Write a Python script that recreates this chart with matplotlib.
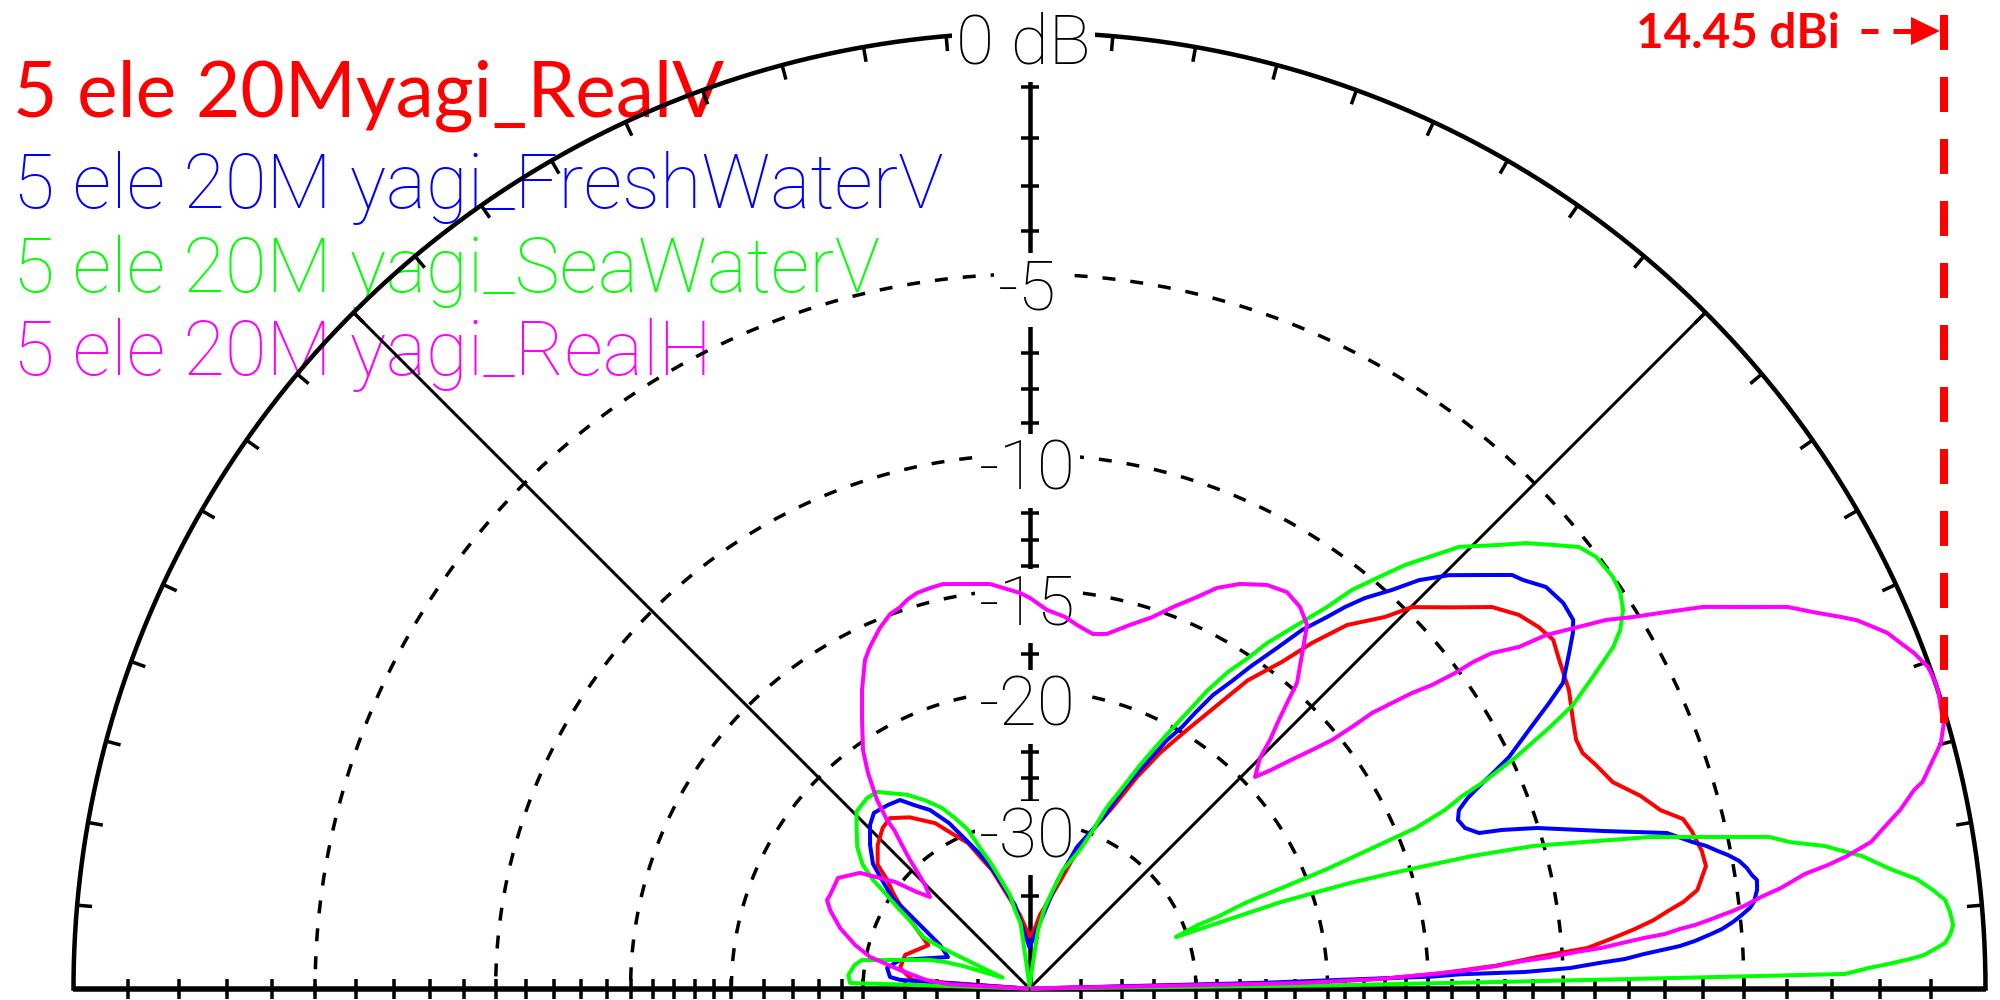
import numpy as np
import matplotlib
matplotlib.use("Agg")
import matplotlib.pyplot as plt
from matplotlib.collections import LineCollection

# ---------------- data ----------------
trace_names = ["5 ele 20Myagi_RealV", "5 ele 20M yagi_FreshWaterV",
               "5 ele 20M yagi_SeaWaterV", "5 ele 20M yagi_RealH"]
trace_colors = ["#ff0000", "#0000ff", "#00ff00", "#ff00ff"]

ring_db = [-5, -10, -15, -20, -30]
ring_labels = ["-5", "-10", "-15", "-20", "-30"]
top_label = "0 dB"
peak_label = "14.45 dBi"
tick_db = [-1, -2, -3, -4, -5, -6, -7, -8, -9, -10, -11, -12, -13, -14, -15,
           -16, -17, -18, -19, -20, -22, -24, -26, -28, -30, -35, -40, -50]

# elevation angle (deg) / gain relative to 14.45 dBi (dB)
real_v_elev = [0, 1.2, 1.6, 2.1, 2.8, 3.55, 4.15, 4.95, 5.6, 6.26, 6.92, 7.54, 8.39,
               10.26, 11.56, 13.37, 14.54, 15.78, 17.5, 19.49, 21.53, 23.05, 24.45,
               26.29, 28.95, 31.82, 33.65, 35.36, 37.35, 39.52, 42.07, 44.92, 46.26,
               48.86, 50.73, 52.28, 54.69, 56.29, 58.65, 61.0, 63.06, 65.3, 68.74,
               71.7, 73.6, 81.9, 84.8, 90, 97.4, 107.6, 109.9, 112.9, 116.6, 119.7,
               125.0, 129.3, 132.4, 136.6, 140.8, 142.7, 145.0, 148.2, 156.8, 164.9,
               171.0, 175.9, 180]
real_v_gain = [-99, -22.0, -17.0, -14.5, -12.3, -10.83, -9.20, -8.40, -7.77, -7.21, -6.80,
               -6.37, -5.97, -5.66, -5.69, -5.83, -5.97, -6.47, -6.87, -7.47, -7.74,
               -7.96, -7.98, -7.82, -7.53, -7.34, -7.18, -7.31, -7.55, -8.01, -8.91,
               -9.80, -10.64, -11.73, -13.07, -14.40, -15.94, -17.58, -19.72, -21.73,
               -23.93, -26.86, -29.95, -33.55, -36.32, -43.85, -47.31, -50.0, -43.9,
               -35.0, -33.4, -30.9, -29.3, -27.7, -26.1, -25.2, -25.4, -26.1, -27.2,
               -28.8, -30.0, -31.9, -37.1, -34.4, -34.1, -36.0, -99]

fresh_v_elev = [0, 1.4, 1.6, 1.7, 1.89, 1.91, 2.17, 2.56, 2.84, 3.21, 3.48, 3.74, 4.08,
                4.57, 4.91, 5.4, 5.89, 6.38, 6.81, 7.71, 8.48, 8.93, 9.53, 10.19, 10.82,
                11.29, 11.9, 12.47, 13.71, 15.33, 17.55, 18.55, 19.08, 20.23, 21.47,
                22.56, 23.5, 24.1, 25.1, 25.77, 27.36, 28.79, 29.8, 31.87, 33.19, 34.14,
                35.85, 37.86, 39.62, 40.6, 42.55, 44.59, 46.36, 47.71, 49.33, 50.4,
                51.31, 52.76, 53.99, 55.56, 56.63, 57.99, 59.0, 59.75, 61.04, 62.97,
                64.78, 66.68, 71.44, 75.3, 90, 99.85, 107.1, 110.67, 113.15, 115.94,
                119.14, 122.18, 124.49, 127.64, 131.54, 134.29, 138.02, 141.49, 143.66,
                146.36, 147.77, 151.33, 154.08, 158.87, 167.6, 171.8, 175.3, 176.2, 180]
fresh_v_gain = [-99, -24.0, -19.0, -14.8, -13.68, -11.27, -9.77, -8.88, -8.10, -7.56,
                -7.06, -6.57, -6.18, -5.75, -5.47, -5.19, -4.96, -4.75, -4.64, -4.53,
                -4.50, -4.60, -4.69, -4.84, -5.08, -5.30, -5.56, -5.88, -6.46, -8.12,
                -10.05, -11.18, -11.98, -12.40, -12.54, -12.37, -11.9, -11.45, -10.61,
                -10.04, -9.11, -8.20, -7.58, -7.01, -6.64, -6.44, -6.40, -6.51, -6.87,
                -7.01, -7.67, -8.32, -9.05, -9.84, -10.62, -11.29, -11.97, -12.92,
                -14.08, -15.39, -16.38, -17.44, -18.71, -19.74, -20.84, -23.19, -25.26,
                -28.13, -31.87, -36.77, -54.0, -41.6, -35.06, -32.27, -30.5, -28.28,
                -26.48, -25.47, -24.55, -24.32, -24.11, -24.57, -25.65, -26.85, -28.37,
                -30.13, -32.1, -36.25, -38.85, -41.06, -33.9, -32.5, -32.98, -34.3, -99]

sea_v_elev = [0, 0.6, 0.8, 0.95, 1.02, 1.40, 1.63, 1.92, 2.14, 2.44, 2.85, 3.33, 3.93,
              4.75, 5.52, 6.22, 7.03, 7.91, 9.04, 10.17, 10.9, 11.58, 12.92, 13.72,
              14.8, 15.8, 16.67, 17.14, 17.71, 18.22, 18.55, 18.98, 19.05, 19.28, 19.37,
              20.67, 20.87, 21.61, 21.7, 21.76, 21.87, 22.31, 22.56, 23.25, 23.99, 24.47,
              25.45, 26.63, 27.55, 28.94, 30.33, 31.26, 32.53, 33.88, 35.19, 37.30, 38.78,
              40.27, 41.9, 43.37, 45.79, 47.06, 48.44, 49.66, 51.02, 52.05, 53.66, 55.49,
              56.53, 57.9, 59.12, 60.52, 62.1, 63.69, 65.1, 66.88, 68.17, 69.97, 74.21,
              76.58, 79.23, 81.73, 90, 97.6, 97.8, 100.5, 101.8, 105.5, 107.3, 109.4,
              111.2, 113.6, 115.86, 119.0, 122.33, 127.81, 130.47, 134.35, 137.42, 140.63,
              143.43, 145.26, 146.54, 148.4, 150.86, 154.2, 155.16, 158.0, 161.3, 162.6,
              164.0, 168.45, 170.34, 172.33, 175.75, 178.24, 180]
sea_v_gain = [-99, -20.0, -12.0, -6.0, -2.73, -2.23, -1.84, -1.40, -1.13, -0.95, -0.72,
              -0.62, -0.55, -0.59, -0.66, -0.87, -1.15, -1.64, -2.16, -2.90, -3.62, -4.05,
              -5.91, -6.92, -8.77, -10.34, -12.48, -14.15, -16.0, -17.87, -19.71, -21.96,
              -23.84, -29.5, -31.2, -28.67, -26.72, -24.35, -23.19, -20.85, -18.78, -16.05,
              -14.22, -12.85, -12.04, -11.15, -9.84, -8.54, -7.63, -6.79, -5.94, -5.57,
              -5.25, -5.07, -5.01, -5.05, -5.23, -5.69, -6.18, -6.73, -7.54, -8.26, -9.0,
              -9.81, -10.69, -11.69, -12.89, -14.15, -15.12, -16.12, -17.35, -19.23,
              -21.15, -23.07, -25.05, -27.08, -29.56, -32.07, -35.17, -38.5, -41.9, -47.8,
              -99, -51.0, -46.0, -42.6, -39.5, -35.9, -33.9, -31.9, -29.6, -28.1, -26.8,
              -25.6, -24.5, -23.1, -23.0, -23.2, -24.1, -25.0, -26.2, -27.7, -29.3, -31.2,
              -33.7, -35.9, -39.4, -60.0, -44.8, -40.8, -38.1, -32.7, -29.65, -29.0, -28.5,
              -28.7, -99]

real_h_elev = [0, 1.16, 1.55, 2.06, 2.40, 2.76, 3.19, 3.46, 3.82, 4.05, 4.39, 4.70, 4.90,
               5.23, 5.45, 5.76, 6.06, 6.29, 6.59, 7.13, 7.62, 8.40, 8.79, 9.21, 9.88,
               10.91, 11.59, 12.65, 13.03, 15.07, 16.19, 17.16, 18.02, 18.85, 19.69, 20.77,
               21.62, 22.52, 23.17, 24.0, 24.6, 25.63, 26.73, 27.77, 29.53, 30.6, 31.62,
               32.59, 33.15, 33.75, 34.38, 34.9, 35.96, 36.35, 36.55, 37.02, 37.69, 38.22,
               38.81, 39.04, 39.4, 40.17, 41.15, 42.14, 43.17, 45.0, 45.94, 47.0, 47.95,
               48.8, 50.75, 52.64, 54.66, 57.0, 59.52, 62.5, 64.92, 66.83, 69.38, 71.75,
               74.55, 77.67, 79.84, 82.55, 84.54, 87.35, 89.9, 91.38, 93.79, 95.58, 98.78,
               102.07, 103.95, 105.88, 107.5, 108.75, 110.38, 112.53, 115.04, 116.6, 119.3,
               121.96, 124.92, 126.84, 128.97, 130.22, 130.5, 131.62, 132.92, 133.99,
               135.27, 137.4, 139.4, 141.6, 145.7, 150.0, 154.9, 156.4, 158.5, 162.3,
               166.0, 168.8, 171.9, 175.3, 177.0, 180]
real_h_gain = [-99, -21.7, -17.2, -14.8, -13.3, -12.26, -11.32, -10.40, -9.56, -8.79,
               -8.16, -7.53, -6.95, -6.54, -6.14, -5.77, -5.44, -5.16, -4.88, -4.46, -3.98,
               -3.41, -2.89, -2.46, -1.93, -1.53, -1.25, -0.91, -0.72, -0.22, -0.07, -0.04,
               0.0, 0.0, -0.03, -0.18, -0.34, -0.50, -0.69, -0.93, -1.18, -1.62, -2.05,
               -2.66, -3.62, -4.41, -5.14, -5.74, -6.24, -6.75, -7.27, -8.08, -8.84, -9.46,
               -10.14, -10.98, -11.71, -12.49, -13.33, -14.31, -15.32, -16.30, -17.38,
               -18.48, -19.37, -18.47, -17.45, -16.56, -15.63, -14.69, -13.69, -12.65,
               -12.27, -12.09, -12.25, -12.70, -13.23, -13.88, -14.63, -15.35, -15.96,
               -16.62, -16.76, -16.45, -16.14, -15.88, -15.37, -15.14, -14.89, -14.68,
               -14.56, -14.38, -14.42, -14.48, -14.64, -14.84, -14.97, -15.37, -15.97,
               -16.41, -17.63, -18.98, -20.42, -21.74, -23.55, -25.16, -26.18, -27.55,
               -29.09, -30.62, -32.13, -33.57, -32.0, -29.48, -26.41, -25.13, -25.19,
               -25.14, -25.66, -26.95, -28.69, -30.41, -34.14, -38.1, -42.6, -99]

traces = [(real_v_elev, real_v_gain), (fresh_v_elev, fresh_v_gain),
          (sea_v_elev, sea_v_gain), (real_h_elev, real_h_gain)]


# ---------------- scale / layout helpers ----------------
def arrl(db):
    """ARRL log scale: radius shrinks by 0.89 for every 2 dB."""
    return 0.89 ** (-np.asarray(db, dtype=float) / 2.0)


CX, CY, RPX = 1029.5, 988.5, 956.0      # plot centre and outer radius in pixels
PT = 0.72                                # pixels -> points at 100 dpi


def px(x):
    return (x - CX) / RPX


def py(y):
    return (CY - y) / RPX


fig = plt.figure(figsize=(20, 10), dpi=100)
ax = fig.add_axes([0, 0, 1, 1])
ax.set_xlim(px(0), px(2000))
ax.set_ylim(py(1000), py(0))
ax.axis("off")

# ---------------- grid ----------------
t = np.linspace(0, np.pi, 1441)
ax.plot(np.cos(t), np.sin(t), color="black", lw=4.5 * PT, zorder=2)
for db in ring_db:
    r = arrl(db)
    ax.plot(r * np.cos(t), r * np.sin(t), color="black", lw=3.5 * PT,
            linestyle=(0, (13 / 3.5, 15 / 3.5)), zorder=2)

for a in (45, 135):
    ang = np.radians(a)
    ax.plot([0, np.cos(ang)], [0, np.sin(ang)], color="black", lw=3.0 * PT, zorder=2)

ax.plot([-1, 1], [0, 0], color="black", lw=5.5 * PT, zorder=2,
        solid_capstyle="butt")
ax.plot([0, 0], [0, 1], color="black", lw=4.5 * PT, zorder=2,
        solid_capstyle="butt")

# outer circle ticks every 5 degrees
segs = []
tl = 15 / RPX
for a in range(5, 180, 5):
    ang = np.radians(a)
    c, s = np.cos(ang), np.sin(ang)
    segs.append([(c, s), ((1 - tl) * c, (1 - tl) * s)])
# dB ticks on both axes
hw = 9 / RPX
for db in tick_db:
    r = float(arrl(db))
    lo = -10 / RPX
    hi = 10 / RPX
    segs.append([(r, lo), (r, hi)])
    segs.append([(-r, lo), (-r, hi)])
    segs.append([(-hw, r), (hw, r)])
ax.add_collection(LineCollection(segs, colors="black", linewidths=3.5 * PT, zorder=2))

# ---------------- scale labels ----------------
label_font = dict(family=["Roboto", "DejaVu Sans"], fontweight="light")
lab_kw = dict(ha="center", va="baseline", fontsize=50, color="black", zorder=2.5,
              bbox=dict(boxstyle="square,pad=0.06", fc="white", ec="none"), **label_font)
for db, lab in zip(ring_db, ring_labels):
    r = float(arrl(db))
    ax.text(px(CX - 2), r - 35 / RPX, lab, **lab_kw)
ax.text(px(CX - 6), 1 - 31 / RPX, top_label, **lab_kw)

# ---------------- patterns ----------------
curves = []
for (elev, gain), col in zip(traces, trace_colors):
    th = np.radians(elev)
    r = arrl(gain)
    x, y = r * np.cos(th), r * np.sin(th)
    curves.append((x, y))
    ax.plot(x, y, color=col, lw=4.0 * PT, zorder=3)

# ---------------- legend texts ----------------
fig.canvas.draw()
renderer = fig.canvas.get_renderer()

t0 = ax.text(px(13), py(117), trace_names[0], color=trace_colors[0], fontsize=50,
             family=["Lato", "DejaVu Sans"], ha="left", va="baseline", zorder=1)
w = t0.get_window_extent(renderer).width
t0.set_fontsize(50 * 712 / w)

others = []
baselines = [208, 292, 375]
for name, col, yb in zip(trace_names[1:], trace_colors[1:], baselines):
    others.append(ax.text(px(13), py(yb), name, color=col, fontsize=50,
                          ha="left", va="baseline", zorder=1, **label_font))
w = others[0].get_window_extent(renderer).width
for o in others:
    o.set_fontsize(50 * 932 / w)

# ---------------- peak marker ----------------
xh, yh = curves[3]
k = int(np.argmax(xh))
x_pk, y_pk = xh[k], yh[k]

tp = ax.text(px(1636), py(48), peak_label, color="#ff0000", fontsize=30,
             fontweight="bold", family=["Lato", "DejaVu Sans"],
             ha="left", va="baseline", zorder=4)
w = tp.get_window_extent(renderer).width
tp.set_fontsize(30 * 203 / w)

ax.plot([x_pk, x_pk], [py(15), y_pk], color="#ff0000", lw=8 * PT,
        linestyle=(0, (35 / 8, 27 / 8)), zorder=4)
ax.plot([px(1861), px(1878)], [py(31), py(31)], color="#ff0000", lw=5 * PT,
        solid_capstyle="butt", zorder=4)
ax.plot([px(1893), px(1915)], [py(31), py(31)], color="#ff0000", lw=5 * PT,
        solid_capstyle="butt", zorder=4)
tip = x_pk - 4 / RPX
ax.fill([px(1911), tip, px(1911)], [py(17), py(31), py(45)], color="#ff0000",
        lw=0, zorder=4)

fig.savefig("out.png", dpi=100, facecolor="white")
